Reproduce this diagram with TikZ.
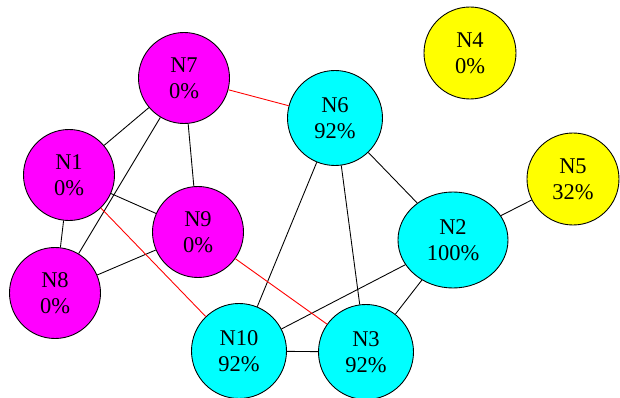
\documentclass[tikz,border=0pt]{standalone}
\usepackage{fontspec}
\setmainfont{Liberation Serif}
\usepackage{xcolor}
\usetikzlibrary{positioning,shapes.geometric}

\definecolor{downcol}{RGB}{255,0,255}
\definecolor{upcol}{RGB}{0,255,255}
\definecolor{partcol}{RGB}{255,255,0}
\definecolor{badcol}{RGB}{255,0,0}

\tikzset{
  netnode/.style={circle, draw=black, line width=0.5pt, inner sep=0pt, align=center,
                  font=\fontsize{12.8}{14.7}\selectfont},
  downnode/.style={netnode, fill=downcol, minimum size=1.82cm},
  upnode/.style={netnode, fill=upcol, minimum size=1.9cm},
  partnode/.style={netnode, fill=partcol, minimum size=1.84cm},
  link/.style={draw=black, line width=0.5pt},
  badlink/.style={draw=badcol, line width=0.5pt}
}

\begin{document}
\begin{tikzpicture}
        \useasboundingbox (0, 0) rectangle (12.4, 7.96);

        % nodes that are down
        \node[downnode] (n7) at (3.68, 6.40) {N7\\0\%};
        \node[downnode] (n1) at (1.38, 4.46) {N1\\0\%};
        \node[downnode] (n9) at (3.96, 3.32) {N9\\0\%};
        \node[downnode] (n8) at (1.10, 2.10) {N8\\0\%};

        % nodes that are up
        \node[upnode] (n6)  at (6.70, 5.60) {N6\\92\%};
        \node[upnode] (n10) at (4.78, 0.94) {N10\\92\%};
        \node[upnode] (n3)  at (7.32, 0.92) {N3\\92\%};
        \node[netnode, ellipse, fill=upcol, minimum width=2.2cm, minimum height=1.92cm]
              (n2) at (9.06, 3.16) {N2\\100\%};

        % nodes that are partly up
        \node[partnode] (n4) at (9.40, 6.90) {N4\\0\%};
        \node[partnode] (n5) at (11.46, 4.38) {N5\\32\%};

        % the links
        \foreach \a/\b in {n7/n1,n7/n8,n7/n9,n1/n9,n1/n8,n9/n8,%
                           n6/n10,n6/n3,n6/n2,n2/n5,n2/n10,n2/n3,n10/n3} {
          \draw[link] (\a) -- (\b);
        };

        % the broken links
        \foreach \a/\b in {n7/n6,n1/n10,n9/n3} {
          \draw[badlink] (\a) -- (\b);
        };
    \end{tikzpicture}
\end{document}
